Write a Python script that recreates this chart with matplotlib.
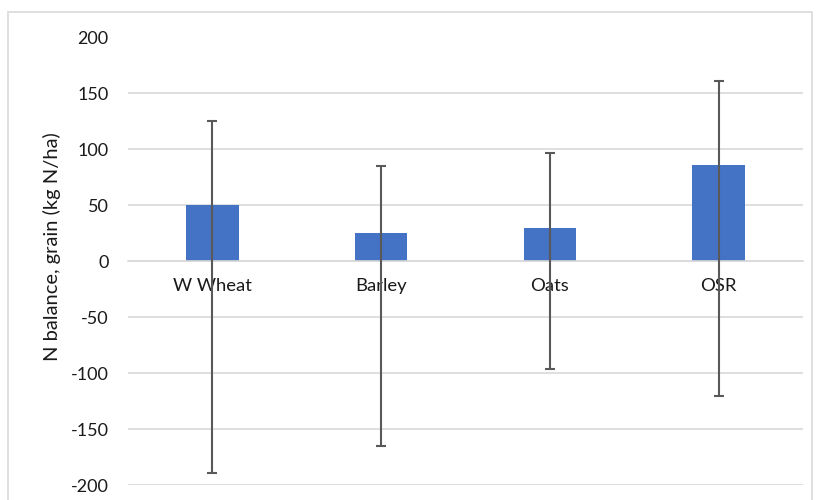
import matplotlib
matplotlib.use("Agg")
import matplotlib.pyplot as plt
import numpy as np
from matplotlib.patches import Rectangle

crops = ["W Wheat", "Barley", "Oats", "OSR"]
balance = [50, 25, 30, 86]
err_top = [125, 85, 97, 161]
err_bottom = [-189, -165, -96, -120]
y_ticks = [-200, -150, -100, -50, 0, 50, 100, 150, 200]

plt.rcParams["font.family"] = ["Lato", "DejaVu Sans"]
plt.rcParams["axes.unicode_minus"] = False

fig = plt.figure(figsize=(8.16, 5.0), dpi=100)
ax = fig.add_axes([128 / 816, 1 - 485 / 500, 675 / 816, 447.5 / 500])

# chart area border (bottom is cut off in the reference)
fig.patches.append(Rectangle((8 / 816, -0.05), 804 / 816, 1.05 - 12 / 500,
                             transform=fig.transFigure, fill=False,
                             edgecolor="#d9d9d9", linewidth=1.2))

x = np.arange(len(crops))
vals = np.array(balance)
yerr = [vals - np.array(err_bottom), np.array(err_top) - vals]

ax.bar(x, vals, width=0.31, color="#4472c4", zorder=2)
ax.errorbar(x, vals, yerr=yerr, fmt="none", ecolor="#595959",
            elinewidth=1.5, capsize=3.7, capthick=1.5, zorder=3)

ax.set_xlim(-0.5, len(crops) - 0.5)
ax.set_ylim(-200, 200)
ax.set_yticks(y_ticks)
ax.set_yticklabels([str(t) for t in y_ticks])
ax.yaxis.grid(True, color="#d9d9d9", linewidth=1.2, zorder=0)
ax.set_axisbelow(True)

for s in ["top", "right", "left"]:
    ax.spines[s].set_visible(False)
ax.spines["bottom"].set_position(("data", 0))
ax.spines["bottom"].set_color("#d9d9d9")
ax.spines["bottom"].set_linewidth(1.2)

ax.set_xticks(x)
ax.set_xticklabels(crops)
ax.tick_params(axis="x", length=0, pad=12, labelsize=13.3, labelcolor="#1a1a1a")
ax.tick_params(axis="y", length=0, pad=14, labelsize=13, labelcolor="#1a1a1a")

ax.set_ylabel("N balance, grain (kg N/ha)", fontsize=14.5, color="#1a1a1a")
ax.yaxis.set_label_coords(-0.099, 0.532)

fig.savefig("out.png", dpi=100)
